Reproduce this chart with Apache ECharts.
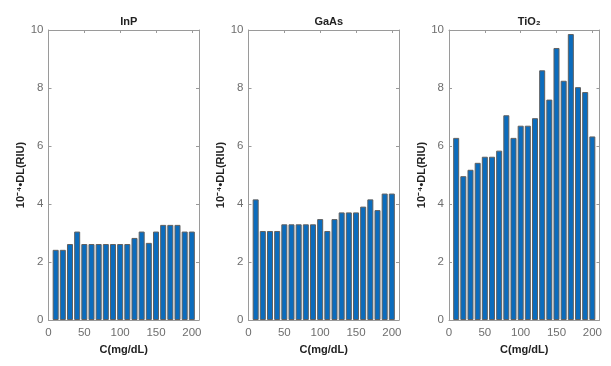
<!DOCTYPE html>
<html>
<head>
<meta charset="utf-8">
<script src="https://cdn.jsdelivr.net/npm/echarts@6/dist/echarts.min.js"></script>
<style>
  html, body { margin: 0; padding: 0; background: #fff; }
  #chart { width: 611px; height: 366px; }
</style>
</head>
<body>
<div id="chart"></div>
<script>
// Concentrations (mg/dL) shared by all three panels
const concentrations = [10, 20, 30, 40, 50, 60, 70, 80, 90, 100, 110, 120, 130, 140, 150, 160, 170, 180, 190, 200];

// Detection limit, in units of 1e-4 RIU
const inpValues  = [2.42, 2.42, 2.62, 3.05, 2.62, 2.62, 2.62, 2.62, 2.62, 2.62, 2.62, 2.83, 3.05, 2.66, 3.05, 3.28, 3.28, 3.28, 3.05, 3.05];
const gaasValues = [4.16, 3.07, 3.07, 3.07, 3.30, 3.30, 3.30, 3.30, 3.30, 3.48, 3.07, 3.48, 3.71, 3.71, 3.71, 3.91, 4.16, 3.79, 4.36, 4.36];
const tio2Values = [6.28, 4.96, 5.18, 5.42, 5.63, 5.63, 5.84, 7.06, 6.28, 6.70, 6.70, 6.96, 8.61, 7.60, 9.38, 8.25, 9.86, 8.03, 7.86, 6.33];

const panelTitles = ['InP', 'GaAs', 'TiO₂'];
const panelValues = [inpValues, gaasValues, tio2Values];

const xTicks = { min: 0, max: 210, interval: 50 };
const yTicks = { min: 0, max: 10, interval: 2 };

const xName = 'C(mg/dL)';
const yName = '10⁻⁴•DL(RIU)';

const panelLefts = [48.5, 248.5, 449];
const panelWidth = 150.5;
const panelTop = 30;
const panelHeight = 290;

const axisGray = '#9a9a9a';
const labelGray = '#6e6e6e';
const textDark = '#222';
const font = 'Liberation Sans, Arial, Helvetica, sans-serif';

const grids = [], xAxes = [], yAxes = [], series = [], titles = [];

panelValues.forEach((vals, i) => {
  grids.push({ left: panelLefts[i], top: panelTop, width: panelWidth, height: panelHeight, containLabel: false });

  titles.push({
    text: panelTitles[i],
    left: panelLefts[i] + panelWidth / 2,
    top: 11,
    textAlign: 'center',
    textStyle: { fontFamily: font, fontSize: 11, fontWeight: 'bold', color: textDark }
  });

  const tick = { show: true, inside: true, length: 3, lineStyle: { color: axisGray, width: 1 } };
  const line = { show: true, onZero: false, lineStyle: { color: axisGray, width: 1 } };

  // bottom x axis (labelled)
  xAxes.push({
    type: 'value', gridIndex: i, position: 'bottom',
    min: xTicks.min, max: xTicks.max, interval: xTicks.interval,
    axisLine: line, axisTick: tick, splitLine: { show: false },
    axisLabel: { show: true, showMaxLabel: false, margin: 7, color: labelGray, fontFamily: font, fontSize: 11.5 },
    name: xName, nameLocation: 'middle', nameGap: 24,
    nameTextStyle: { fontFamily: font, fontSize: 11, fontWeight: 'bold', color: textDark }
  });
  // top x axis (box edge with ticks)
  xAxes.push({
    type: 'value', gridIndex: i, position: 'top',
    min: xTicks.min, max: xTicks.max, interval: xTicks.interval,
    axisLine: line, axisTick: tick, splitLine: { show: false }, axisLabel: { show: false }
  });
  // left y axis (labelled)
  yAxes.push({
    type: 'value', gridIndex: i, position: 'left',
    min: yTicks.min, max: yTicks.max, interval: yTicks.interval,
    axisLine: line, axisTick: tick, splitLine: { show: false },
    axisLabel: { show: true, margin: 5, color: labelGray, fontFamily: font, fontSize: 11.5 },
    name: yName, nameLocation: 'middle', nameGap: 16, nameRotate: 90,
    nameTextStyle: { fontFamily: font, fontSize: 11, fontWeight: 'bold', color: textDark }
  });
  // right y axis (box edge with ticks)
  yAxes.push({
    type: 'value', gridIndex: i, position: 'right',
    min: yTicks.min, max: yTicks.max, interval: yTicks.interval,
    axisLine: line, axisTick: tick, splitLine: { show: false }, axisLabel: { show: false }
  });

  series.push({
    type: 'bar',
    xAxisIndex: i * 2,
    yAxisIndex: i * 2,
    barWidth: '84%',
    data: concentrations.map((c, k) => [c, vals[k]]),
    itemStyle: { color: '#0b6cbd', borderColor: '#606060', borderWidth: 1 },
    emphasis: { disabled: true },
    animation: false
  });
});

const chart = echarts.init(document.getElementById('chart'), null, { renderer: 'canvas' });
chart.setOption({
  backgroundColor: '#fff',
  animation: false,
  title: titles,
  grid: grids,
  xAxis: xAxes,
  yAxis: yAxes,
  series: series
});
</script>
</body>
</html>
